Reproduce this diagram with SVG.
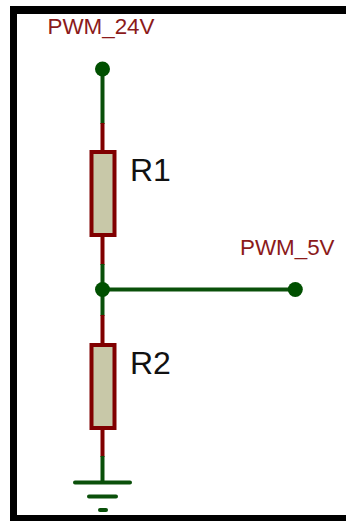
<svg xmlns="http://www.w3.org/2000/svg" width="346" height="521" viewBox="0 0 346 521">
<style>
.g{stroke:#0a500a;stroke-width:4;fill:none}
.g2{stroke:#0a500a;stroke-width:4;fill:none;stroke-linecap:round}
.r{stroke:#800000;stroke-width:4;fill:none}
.b{fill:#c8c8a8;stroke:#800000;stroke-width:4}
.d{fill:#005000}
.l{font-family:"Liberation Sans",Arial,sans-serif;font-size:22.400px;fill:#8b1a1a}
.n{font-family:"Liberation Sans",Arial,sans-serif;font-size:32px;fill:#111}
.f{fill:#000}
</style>
<rect width="346" height="521" fill="#fff"/>
<g id="frame"><rect class="f" x="10" y="6" width="7" height="515"/><rect class="f" x="10" y="6" width="336" height="8"/><rect class="f" x="10" y="515" width="336" height="6"/></g>
<g id="connectors">
<path class="g" d="M102.500 69V124"/>
<path class="r" d="M102.500 123V151"/>
<path class="r" d="M102.500 236V265"/>
<path class="g" d="M102.500 264V316"/>
<path class="g" d="M102.500 289.500H295"/>
<path class="r" d="M102.500 315V343"/>
<path class="r" d="M102.500 430V457"/>
<path class="g" d="M102.500 456V482"/>
</g>
<g id="PWM_24V"><circle class="d" cx="102.500" cy="69" r="7.500"/><text class="l" x="47.500" y="34">PWM_24V</text></g>
<g id="R1"><rect class="b" x="91.500" y="152" width="23" height="83"/><text class="n" x="130" y="180.500">R1</text></g>
<g id="junction"><circle class="d" cx="102.500" cy="289.500" r="7.500"/></g>
<g id="PWM_5V"><circle class="d" cx="295.300" cy="289.500" r="7.500"/><text class="l" x="240" y="255">PWM_5V</text></g>
<g id="R2"><rect class="b" x="91.500" y="345" width="23" height="83"/><text class="n" x="130" y="373.500">R2</text></g>
<g id="ground"><path class="g2" d="M75 482.500H130M89 496.500H116"/><path class="g2" d="M100 510H106"/></g>
</svg>
